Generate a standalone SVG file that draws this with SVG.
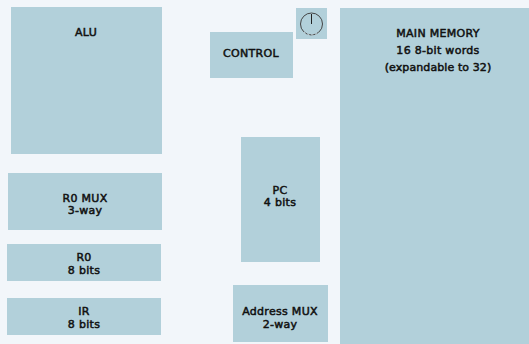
<svg xmlns="http://www.w3.org/2000/svg" width="529" height="344" viewBox="0 0 529 344">
<style>
.b{fill:#b2d0da}
text{font-family:"DejaVu Sans",sans-serif;font-size:11px;font-weight:400;fill:#111;text-anchor:middle;stroke:#111;stroke-width:.5;letter-spacing:.3px}
</style>
<rect width="529" height="344" fill="#f2f6fa"/>
<g id="alu"><rect class="b" x="11" y="7" width="151" height="147"/><text x="86" y="36">ALU</text></g>
<g id="r0mux"><rect class="b" x="8" y="173" width="154" height="57"/><text x="85" y="202">R0 MUX</text><text x="85" y="214">3-way</text></g>
<g id="r0"><rect class="b" x="7" y="244" width="154" height="37"/><text x="84" y="261">R0</text><text x="84" y="274">8 bits</text></g>
<g id="ir"><rect class="b" x="7" y="298" width="154" height="37"/><text x="84" y="315">IR</text><text x="84" y="328">8 bits</text></g>
<g id="control"><rect class="b" x="210" y="32" width="83" height="46"/><text x="251" y="57">CONTROL</text></g>
<g id="clock"><rect class="b" x="296" y="8" width="31" height="31"/><circle cx="311.500" cy="24" r="11" fill="none" stroke="#444" stroke-width="1"/><path d="M304 32A11 11 0 0 0 319 32" fill="none" stroke="#d5e2e8" stroke-width="1" stroke-dasharray="2 2"/><path d="M311.500 14V24" stroke="#222" stroke-width="1"/></g>
<g id="pc"><rect class="b" x="241" y="137" width="79" height="125"/><text x="280" y="194">PC</text><text x="280" y="206">4 bits</text></g>
<g id="addrmux"><rect class="b" x="233" y="285" width="95" height="57"/><text x="280" y="315">Address MUX</text><text x="280" y="328">2-way</text></g>
<g id="memory"><rect class="b" x="340" y="8" width="189" height="336"/><text x="438" y="37">MAIN MEMORY</text><text x="438" y="54">16 8-bit words</text><text x="438" y="71" style="letter-spacing:.1px">(expandable to 32)</text></g>
<g id="connectors"/>
</svg>
